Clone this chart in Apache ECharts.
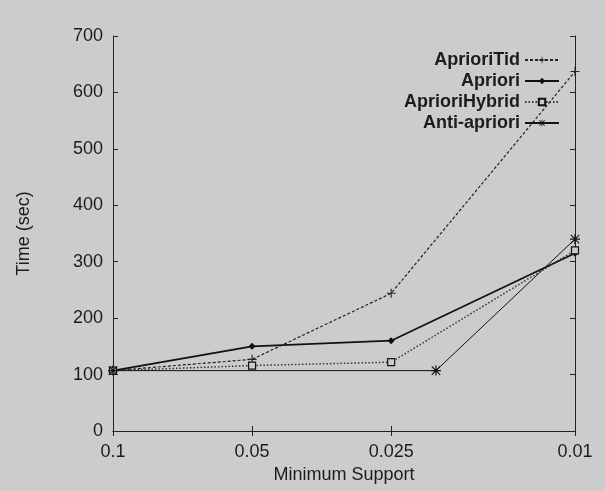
<!DOCTYPE html>
<html><head><meta charset="utf-8">
<script src="https://cdn.jsdelivr.net/npm/echarts@6/dist/echarts.min.js"></script>
<style>html,body{margin:0;padding:0;background:#cccccc}#c{width:605px;height:491px}</style>
</head><body><div id="c"></div>
<script>
var supports = [0.1, 0.05, 0.025, 0.01];
var xTicks = [0.1, 0.05, 0.025, 0.01];
var yTicks = [0, 100, 200, 300, 400, 500, 600, 700];
var aprioriTid = [107, 127, 244, 637];
var apriori = [107, 150, 160, 315];
var aprioriHybrid = [107, 116, 122, 320];
var antiSupports = [0.1, 0.02, 0.01];
var antiApriori = [107, 107, 340];

function pairs(xs, ys){ return xs.map(function(x,i){ return [x, ys[i]]; }); }
var plusPath = 'path://M4.4,0H5.6V10H4.4Z M0,4.4H10V5.6H0Z';
var starPath = 'path://M4.4,0H5.6V10H4.4Z M0,4.4H10V5.6H0Z M1.2,0.4L9.6,8.8L8.8,9.6L0.4,1.2Z M8.8,0.4L9.6,1.2L1.2,9.6L0.4,8.8Z';
var fmt = function(v){ return String(Number(Number(v).toPrecision(6))); };
var txt = '#1c1c1c';
var chart = echarts.init(document.getElementById('c'));
chart.setOption({
  backgroundColor: '#cccccc',
  animation: false,
  grid: {left: 113, right: 30, top: 36, bottom: 60},
  legend: {
    right: 40, top: 46, orient: 'vertical', align: 'right',
    itemWidth: 34, itemHeight: 8, itemGap: 3,
    textStyle: {fontFamily: 'Liberation Sans', fontWeight: 'bold', fontSize: 18, lineHeight: 18, color: txt},
    data: ['AprioriTid', 'Apriori', 'AprioriHybrid', 'Anti-apriori']
  },
  xAxis: [{
    type: 'log', logBase: 10, min: 0.01, max: 0.1, inverse: true,
    name: 'Minimum Support', nameLocation: 'middle', nameGap: 30,
    nameTextStyle: {fontFamily: 'Liberation Sans', fontSize: 18, color: txt},
    axisLine: {lineStyle: {color: '#222', width: 1}},
    axisTick: {inside: true, length: 5, customValues: xTicks, lineStyle: {color: '#222'}},
    axisLabel: {customValues: xTicks, formatter: fmt, fontFamily: 'Liberation Sans', fontSize: 18, color: txt, margin: 12},
    splitLine: {show: false}, minorTick: {show: false}
  }, {
    type: 'log', logBase: 10, min: 0.01, max: 0.1, inverse: true, position: 'top',
    axisLine: {lineStyle: {color: '#222', width: 1}},
    axisTick: {inside: true, length: 5, customValues: xTicks, lineStyle: {color: '#222'}},
    axisLabel: {show: false}, splitLine: {show: false}
  }],
  yAxis: [{
    type: 'value', min: 0, max: 700, interval: 100,
    name: 'Time (sec)', nameLocation: 'middle', nameGap: 80, nameRotate: 90,
    nameTextStyle: {fontFamily: 'Liberation Sans', fontSize: 18, color: txt},
    axisLine: {show: true, lineStyle: {color: '#222', width: 1}},
    axisTick: {show: true, inside: true, length: 5, lineStyle: {color: '#222'}},
    axisLabel: {fontFamily: 'Liberation Sans', fontSize: 18, color: txt, margin: 10},
    splitLine: {show: false}
  }, {
    type: 'value', min: 0, max: 700, interval: 100, position: 'right',
    axisLine: {show: true, lineStyle: {color: '#222', width: 1}},
    axisTick: {show: true, inside: true, length: 5, lineStyle: {color: '#222'}},
    axisLabel: {show: false}, splitLine: {show: false}
  }],
  series: [{
    name: 'AprioriTid', type: 'line', data: pairs(supports, aprioriTid),
    symbol: plusPath, symbolSize: 9,
    lineStyle: {color: '#222', width: 1.2, type: [3, 2]},
    itemStyle: {color: '#222'}
  }, {
    name: 'Apriori', type: 'line', data: pairs(supports, apriori),
    symbol: 'diamond', symbolSize: 7,
    lineStyle: {color: '#111', width: 1.8},
    itemStyle: {color: '#111'}
  }, {
    name: 'AprioriHybrid', type: 'line', data: pairs(supports, aprioriHybrid),
    symbol: 'rect', symbolSize: 7,
    lineStyle: {color: '#333', width: 1.5, type: [1.5, 2]},
    itemStyle: {color: '#cccccc', borderColor: '#111', borderWidth: 1.2}
  }, {
    name: 'Anti-apriori', type: 'line', data: pairs(antiSupports, antiApriori),
    symbol: starPath, symbolSize: 10,
    lineStyle: {color: '#111', width: 1},
    itemStyle: {color: '#111'}
  }]
});
</script></body></html>
